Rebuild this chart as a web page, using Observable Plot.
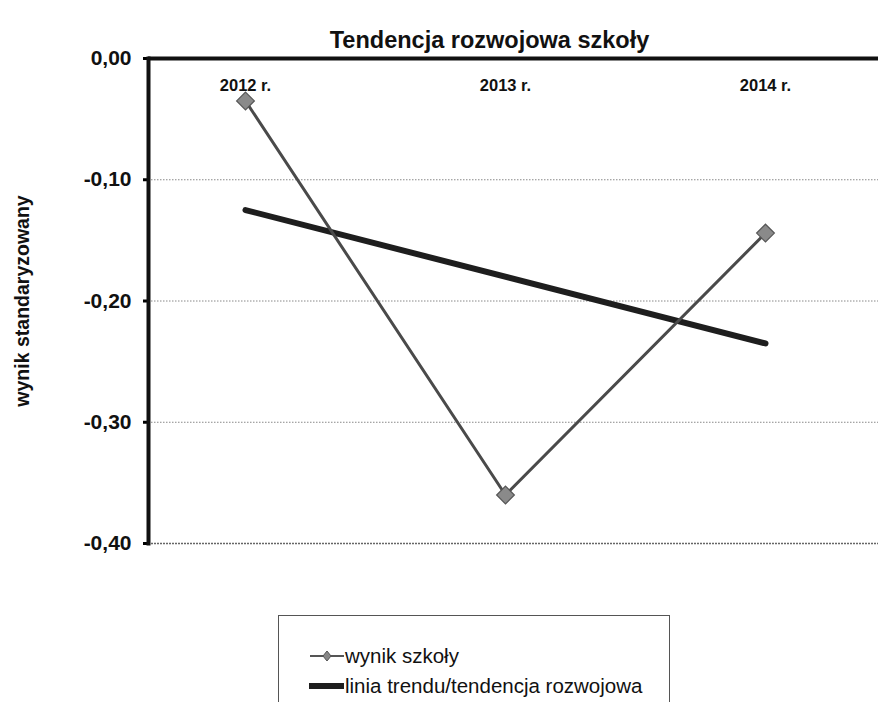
<!DOCTYPE html>
<html>
<head>
<meta charset="utf-8">
<script src="https://cdn.jsdelivr.net/npm/d3@7"></script>
<script src="https://cdn.jsdelivr.net/npm/@observablehq/plot@0.6"></script>
<style>
  html, body { margin: 0; padding: 0; background: #fff; overflow: hidden; }
  #wrap { position: relative; width: 878px; height: 702px; font-family: "Liberation Sans", Arial, sans-serif; }
  #legend { position: absolute; left: 278px; top: 615px; width: 392px; height: 110px; border: 1px solid #555; box-sizing: border-box; background: #fff; }
  .item { position: absolute; left: 31px; font-size: 20.5px; line-height: 22px; color: #111; display: flex; align-items: center; white-space: nowrap; }
  .item svg { display: block; margin-right: 1px; flex: none; }
</style>
</head>
<body>
<div id="wrap"></div>
<script>
const categories = ["2012 r.", "2013 r.", "2014 r."];
const wynikSzkoly = [-0.035, -0.36, -0.144];
const trend = [-0.125, -0.180, -0.235];
const yTicks = [0, -0.1, -0.2, -0.3, -0.4];
const gridTicks = [-0.1, -0.2, -0.3];
const title = "Tendencja rozwojowa szkoły";
const yLabel = "wynik standaryzowany";
const seriesNames = ["wynik szkoły", "linia trendu/tendencja rozwojowa"];

const school = categories.map((c, i) => ({cat: c, v: wynikSzkoly[i]}));
const trendData = [{cat: categories[0], v: trend[0]}, {cat: categories[2], v: trend[2]}];

const fmt = d => d.toFixed(2).replace(".", ",");

const chart = Plot.plot({
  width: 878,
  height: 702,
  marginLeft: 148,
  marginRight: 0,
  marginTop: 58,
  marginBottom: 159,
  style: {fontFamily: "Liberation Sans, Arial, sans-serif", background: "#fff"},
  x: {type: "point", domain: categories, padding: 0, insetLeft: 96, insetRight: 113, axis: null},
  y: {domain: [-0.4, 0], axis: null},
  marks: [
    Plot.ruleY(gridTicks, {stroke: "#888", strokeWidth: 1, strokeDasharray: "1.5,1.5"}),
    Plot.ruleY([-0.4], {stroke: "#666", strokeWidth: 1.6, strokeDasharray: "2,1"}),
    Plot.axisY({ticks: yTicks, tickFormat: fmt, tickSize: 5, tickPadding: 12, strokeWidth: 3, fontSize: 21, fontWeight: "bold", fill: "#111", label: null}),
    Plot.text([title], {frameAnchor: "top", dy: -27, dx: -24, fontSize: 23.5, fontWeight: "bold", fill: "#111"}),
    Plot.text([yLabel], {frameAnchor: "left", dx: -126, rotate: -90, fontSize: 19.5, fontWeight: "bold", fill: "#111", textAnchor: "middle"}),
    Plot.text(categories, {x: d => d, frameAnchor: "top", dy: 21, fontSize: 16.5, fontWeight: "bold", fill: "#111"}),
    Plot.line(trendData, {x: "cat", y: "v", stroke: "#1e1e1e", strokeWidth: 6, strokeLinecap: "round"}),
    Plot.line(school, {x: "cat", y: "v", stroke: "#4a4a4a", strokeWidth: 3}),
    Plot.dot(school, {x: "cat", y: "v", symbol: "diamond2", r: 8, fill: "#8a8a8a", stroke: "#555", strokeWidth: 1.2}),
    Plot.ruleY([0], {stroke: "#111", strokeWidth: 4}),
    Plot.frame({anchor: "left", stroke: "#111", strokeWidth: 4})
  ]
});

const wrap = document.getElementById("wrap");
wrap.appendChild(chart);

const legend = document.createElement("div");
legend.id = "legend";
legend.innerHTML = `
  <div class="item" style="top:29px">
    <svg width="34" height="12"><line x1="0" y1="6" x2="34" y2="6" stroke="#555" stroke-width="2"/><path d="M17,1 L21,6 L17,11 L13,6 Z" fill="#888" stroke="#555" stroke-width="1"/></svg>
    <span>${seriesNames[0]}</span>
  </div>
  <div class="item" style="top:59px; left:30px">
    <svg width="35" height="12"><line x1="1" y1="6" x2="34" y2="6" stroke="#1e1e1e" stroke-width="6" stroke-linecap="round"/></svg>
    <span>${seriesNames[1]}</span>
  </div>`;
wrap.appendChild(legend);
</script>
</body>
</html>
